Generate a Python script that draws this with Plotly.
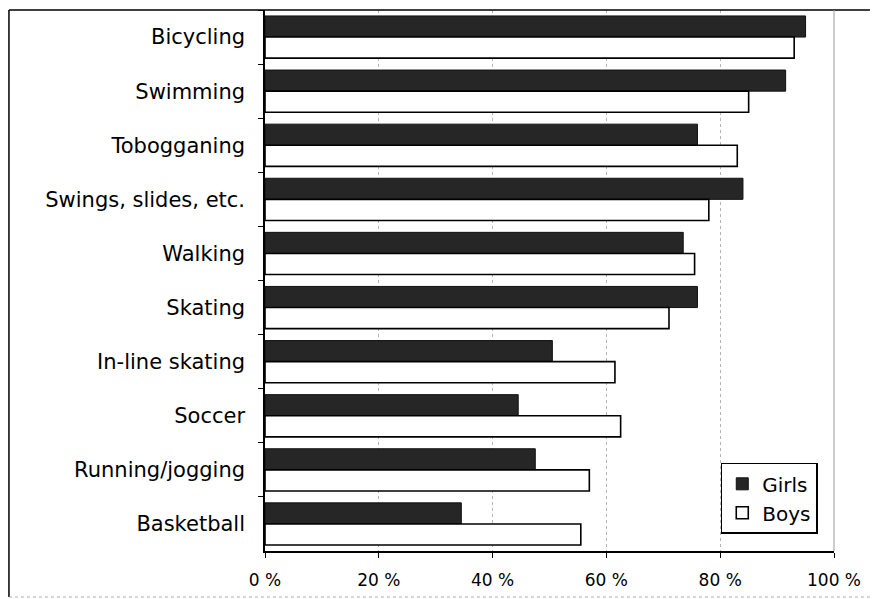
import plotly.graph_objects as go

categories = ["Bicycling", "Swimming", "Tobogganing", "Swings, slides, etc.", "Walking",
              "Skating", "In-line skating", "Soccer", "Running/jogging", "Basketball"]
girls = [95, 91.5, 76, 84, 73.5, 76, 50.5, 44.5, 47.5, 34.5]
boys = [93, 85, 83, 78, 75.5, 71, 61.5, 62.5, 57, 55.5]
tick_vals = [0, 20, 40, 60, 80, 100]
tick_text = ["0 %", "20 %", "40 %", "60 %", "80 %", "100 %"]

FONT = "DejaVu Sans, Verdana, sans-serif"

fig = go.Figure()
fig.add_trace(go.Bar(y=categories, x=girls, name="Girls", orientation="h",
                     marker=dict(color="#262626", line=dict(color="#111111", width=1))))
fig.add_trace(go.Bar(y=categories, x=boys, name="Boys", orientation="h",
                     marker=dict(color="white", line=dict(color="black", width=1.6))))

fig.update_layout(
    width=870, height=591,
    margin=dict(l=257, r=44, t=2, b=48),
    paper_bgcolor="white", plot_bgcolor="white",
    barmode="group", bargap=0.22, bargroupgap=0,
    font=dict(family=FONT, size=20, color="black"),
    legend=dict(x=0.801, y=0.163, xanchor="left", yanchor="top",
                bordercolor="black", borderwidth=1.5, bgcolor="white",
                font=dict(size=20), tracegroupgap=0, itemwidth=30),
    xaxis=dict(range=[0, 100], tickvals=tick_vals, ticktext=tick_text,
               showgrid=True, gridcolor="#b5b5b5", griddash="dot", gridwidth=1,
               showline=True, linecolor="black", linewidth=1.5,
               ticks="outside", ticklen=5, tickcolor="black",
               tickfont=dict(size=17), ticklabelstandoff=8, zeroline=False),
    yaxis=dict(autorange="reversed", showline=True, linecolor="black", linewidth=1.5,
               ticks="outside", ticklen=5, tickcolor="black", tickson="boundaries",
               tickfont=dict(size=21), ticklabelstandoff=14, showgrid=False),
    shapes=[
        dict(type="line", xref="paper", yref="paper", x0=-0.45, x1=1.2, y0=1, y1=1,
             line=dict(color="black", width=1.5)),
        dict(type="line", xref="paper", yref="paper", x0=-0.45, x1=-0.45, y0=1, y1=-0.085,
             line=dict(color="black", width=1.5)),
        dict(type="line", xref="paper", yref="paper", x0=-0.45, x1=1.2, y0=-0.085, y1=-0.085,
             line=dict(color="#aaaaaa", width=1, dash="dot")),
        dict(type="line", xref="paper", yref="paper", x0=1, x1=1, y0=0, y1=1,
             line=dict(color="#999999", width=1)),
    ],
)

fig.write_html("out.html")
